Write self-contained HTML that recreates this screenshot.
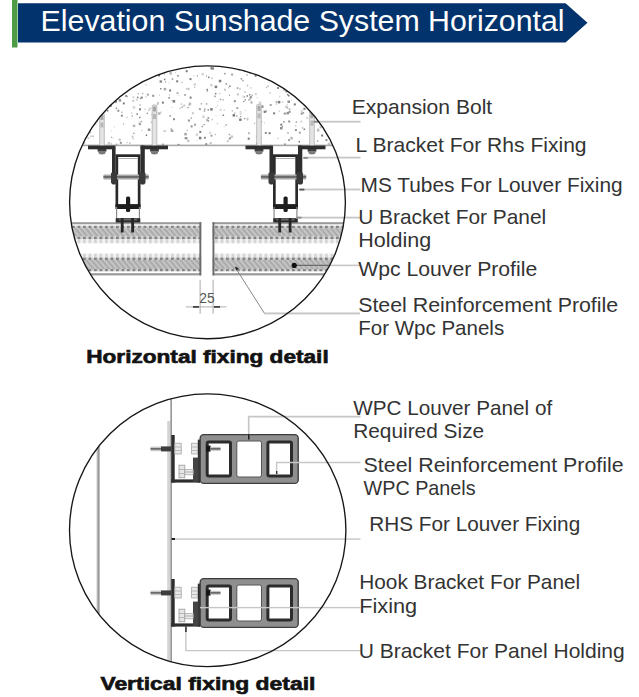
<!DOCTYPE html>
<html><head><meta charset="utf-8"><style>
html,body{margin:0;padding:0;background:#fff;width:639px;height:697px;overflow:hidden}
svg{display:block}
text{font-family:"Liberation Sans",sans-serif;white-space:pre}
</style></head><body>
<svg width="639" height="697" viewBox="0 0 639 697">
<defs>
<clipPath id="c1"><ellipse cx="207.5" cy="202.3" rx="137.9" ry="136.4"/></clipPath>
<clipPath id="c2"><ellipse cx="207.7" cy="530.2" rx="138.2" ry="136.4"/></clipPath>
<pattern id="hatch" patternUnits="userSpaceOnUse" width="4" height="4" patternTransform="rotate(-40)">
<rect width="4" height="4" fill="#acacac"/><rect width="1.6" height="4" fill="#cacaca"/>
</pattern>
<pattern id="dashD" patternUnits="userSpaceOnUse" width="5.5" height="10" x="0.5">
<rect width="3.2" height="10" fill="#858585"/><rect x="3.2" width="2.3" height="10" fill="#d2d2d2"/>
</pattern>
<pattern id="dashL" patternUnits="userSpaceOnUse" width="5.5" height="10" x="0.5">
<rect width="3.2" height="10" fill="#d6d6d6"/><rect x="3.2" width="2.3" height="10" fill="#f4f4f4"/>
</pattern>
</defs>
<rect x="12" y="0" width="5.5" height="47.5" fill="#4f9a47"/>
<polygon points="18,3.2 565.5,3.2 587.5,22.8 565.5,42.5 18,42.5" fill="#03336c"/>
<text x="40.6" y="30.7" font-size="28.8" font-weight="400" fill="#ffffff" textLength="524" lengthAdjust="spacingAndGlyphs">Elevation Sunshade System Horizontal</text>
<g clip-path="url(#c1)">
<rect x="158.0" y="74.4" width="2" height="2" fill="#7c7c7c"/><rect x="86.6" y="105.9" width="1.5" height="1.5" fill="#c8c8c8"/><rect x="82.5" y="103.6" width="1" height="1" fill="#7c7c7c"/><rect x="189.2" y="67.7" width="1" height="1" fill="#c8c8c8"/><rect x="186.6" y="129.8" width="1" height="1" fill="#909090"/><rect x="245.1" y="109.8" width="1" height="1" fill="#c8c8c8"/><rect x="232.3" y="66.1" width="1.2" height="1.2" fill="#7c7c7c"/><rect x="224.1" y="72.9" width="1.5" height="1.5" fill="#909090"/><rect x="219.6" y="108.8" width="2" height="2" fill="#d4d4d4"/><rect x="117.3" y="109.7" width="2" height="2" fill="#909090"/><rect x="171.8" y="106.9" width="1" height="1" fill="#c8c8c8"/><rect x="82.9" y="78.9" width="2" height="2" fill="#c8c8c8"/><rect x="187.4" y="87.8" width="2" height="2" fill="#b8b8b8"/><rect x="168.7" y="82.4" width="1.2" height="1.2" fill="#d4d4d4"/><rect x="287.5" y="68.7" width="1.5" height="1.5" fill="#c8c8c8"/><rect x="206.6" y="90.2" width="1.5" height="1.5" fill="#a4a4a4"/><rect x="238.9" y="68.0" width="2" height="2" fill="#b8b8b8"/><rect x="112.8" y="90.0" width="1.5" height="1.5" fill="#b8b8b8"/><rect x="77.1" y="116.8" width="2.5" height="2.5" fill="#c8c8c8"/><rect x="228.7" y="133.8" width="1.5" height="1.5" fill="#a4a4a4"/><rect x="263.5" y="110.7" width="2" height="2" fill="#b8b8b8"/><rect x="85.5" y="69.7" width="1.5" height="1.5" fill="#b8b8b8"/><rect x="264.0" y="67.3" width="2" height="2" fill="#d4d4d4"/><rect x="153.9" y="109.4" width="2" height="2" fill="#b8b8b8"/><rect x="146.8" y="93.6" width="2" height="2" fill="#a4a4a4"/><rect x="72.4" y="99.9" width="1.2" height="1.2" fill="#c8c8c8"/><rect x="99.3" y="66.8" width="2.5" height="2.5" fill="#a4a4a4"/><rect x="102.7" y="82.3" width="1.5" height="1.5" fill="#b8b8b8"/><rect x="88.9" y="98.8" width="2" height="2" fill="#a4a4a4"/><rect x="316.9" y="129.2" width="2.5" height="2.5" fill="#c8c8c8"/><rect x="145.1" y="96.1" width="1.5" height="1.5" fill="#d4d4d4"/><rect x="317.1" y="140.5" width="1.2" height="1.2" fill="#7c7c7c"/><rect x="116.0" y="81.0" width="1.2" height="1.2" fill="#7c7c7c"/><rect x="203.7" y="110.3" width="1.5" height="1.5" fill="#a4a4a4"/><rect x="67.2" y="96.4" width="1.5" height="1.5" fill="#c8c8c8"/><rect x="226.8" y="140.2" width="2" height="2" fill="#c8c8c8"/><rect x="335.9" y="115.7" width="2" height="2" fill="#7c7c7c"/><rect x="195.7" y="133.4" width="2.5" height="2.5" fill="#d4d4d4"/><rect x="292.6" y="94.2" width="1.5" height="1.5" fill="#b8b8b8"/><rect x="95.4" y="114.0" width="1" height="1" fill="#909090"/><rect x="85.1" y="79.1" width="1.2" height="1.2" fill="#7c7c7c"/><rect x="162.6" y="66.3" width="1" height="1" fill="#c8c8c8"/><rect x="109.0" y="70.3" width="1.5" height="1.5" fill="#c8c8c8"/><rect x="73.2" y="133.7" width="2" height="2" fill="#b8b8b8"/><rect x="108.2" y="82.7" width="1.5" height="1.5" fill="#c8c8c8"/><rect x="169.4" y="72.1" width="2.5" height="2.5" fill="#b8b8b8"/><rect x="348.0" y="100.2" width="1.5" height="1.5" fill="#a4a4a4"/><rect x="90.4" y="70.4" width="1.5" height="1.5" fill="#d4d4d4"/><rect x="141.2" y="130.0" width="1.2" height="1.2" fill="#c8c8c8"/><rect x="72.6" y="140.0" width="2" height="2" fill="#a4a4a4"/><rect x="107.6" y="106.5" width="1" height="1" fill="#c8c8c8"/><rect x="150.7" y="114.7" width="1" height="1" fill="#d4d4d4"/><rect x="306.1" y="104.5" width="1.2" height="1.2" fill="#a4a4a4"/><rect x="285.2" y="105.7" width="2.5" height="2.5" fill="#c8c8c8"/><rect x="159.6" y="80.3" width="2.5" height="2.5" fill="#909090"/><rect x="294.9" y="129.1" width="2" height="2" fill="#909090"/><rect x="122.8" y="102.4" width="2" height="2" fill="#7c7c7c"/><rect x="347.0" y="126.8" width="1.5" height="1.5" fill="#a4a4a4"/><rect x="121.0" y="111.6" width="1.5" height="1.5" fill="#b8b8b8"/><rect x="295.6" y="121.3" width="1.5" height="1.5" fill="#a4a4a4"/><rect x="88.9" y="70.4" width="1.5" height="1.5" fill="#909090"/><rect x="161.9" y="101.6" width="2" height="2" fill="#7c7c7c"/><rect x="202.2" y="115.5" width="2.5" height="2.5" fill="#d4d4d4"/><rect x="90.1" y="116.2" width="1.5" height="1.5" fill="#d4d4d4"/><rect x="279.0" y="101.2" width="1.2" height="1.2" fill="#b8b8b8"/><rect x="290.1" y="89.3" width="2.5" height="2.5" fill="#d4d4d4"/><rect x="178.4" y="94.9" width="1" height="1" fill="#d4d4d4"/><rect x="111.1" y="143.4" width="1" height="1" fill="#909090"/><rect x="233.8" y="100.2" width="2" height="2" fill="#909090"/><rect x="239.7" y="110.9" width="1.5" height="1.5" fill="#d4d4d4"/><rect x="332.2" y="74.8" width="2" height="2" fill="#909090"/><rect x="72.1" y="127.5" width="2" height="2" fill="#d4d4d4"/><rect x="95.2" y="123.5" width="1.2" height="1.2" fill="#b8b8b8"/><rect x="346.2" y="78.0" width="2.5" height="2.5" fill="#909090"/><rect x="74.0" y="79.4" width="2" height="2" fill="#909090"/><rect x="282.9" y="88.7" width="2" height="2" fill="#b8b8b8"/><rect x="302.9" y="67.0" width="2" height="2" fill="#a4a4a4"/><rect x="320.9" y="116.3" width="2.5" height="2.5" fill="#c8c8c8"/><rect x="185.5" y="137.3" width="2" height="2" fill="#909090"/><rect x="217.0" y="104.9" width="1" height="1" fill="#b8b8b8"/><rect x="286.5" y="111.9" width="2.5" height="2.5" fill="#909090"/><rect x="114.9" y="100.8" width="2" height="2" fill="#7c7c7c"/><rect x="224.0" y="88.7" width="2" height="2" fill="#c8c8c8"/><rect x="223.7" y="126.3" width="1" height="1" fill="#c8c8c8"/><rect x="82.1" y="77.7" width="1" height="1" fill="#7c7c7c"/><rect x="210.2" y="108.1" width="2.5" height="2.5" fill="#7c7c7c"/><rect x="191.9" y="112.2" width="2" height="2" fill="#c8c8c8"/><rect x="211.5" y="118.8" width="1.5" height="1.5" fill="#c8c8c8"/><rect x="217.5" y="101.2" width="1.2" height="1.2" fill="#d4d4d4"/><rect x="214.6" y="133.8" width="1.5" height="1.5" fill="#c8c8c8"/><rect x="319.5" y="78.6" width="1.5" height="1.5" fill="#909090"/><rect x="184.3" y="94.2" width="1.5" height="1.5" fill="#7c7c7c"/><rect x="256.6" y="97.1" width="1.2" height="1.2" fill="#d4d4d4"/><rect x="152.0" y="72.0" width="2.5" height="2.5" fill="#909090"/><rect x="332.8" y="114.8" width="1.5" height="1.5" fill="#909090"/><rect x="137.9" y="73.3" width="1.5" height="1.5" fill="#909090"/><rect x="278.1" y="69.7" width="1.5" height="1.5" fill="#909090"/><rect x="347.1" y="130.3" width="1.2" height="1.2" fill="#d4d4d4"/><rect x="188.6" y="104.3" width="1.5" height="1.5" fill="#b8b8b8"/><rect x="121.6" y="88.1" width="2" height="2" fill="#a4a4a4"/><rect x="71.5" y="107.4" width="1.5" height="1.5" fill="#d4d4d4"/><rect x="71.1" y="89.2" width="2" height="2" fill="#a4a4a4"/><rect x="211.5" y="67.3" width="2.5" height="2.5" fill="#909090"/><rect x="342.0" y="70.6" width="1.5" height="1.5" fill="#a4a4a4"/><rect x="77.2" y="125.9" width="1.5" height="1.5" fill="#909090"/><rect x="298.8" y="131.7" width="2" height="2" fill="#a4a4a4"/><rect x="181.3" y="106.0" width="2" height="2" fill="#c8c8c8"/><rect x="206.5" y="88.8" width="1.5" height="1.5" fill="#7c7c7c"/><rect x="293.1" y="77.0" width="1" height="1" fill="#a4a4a4"/><rect x="332.5" y="114.0" width="2.5" height="2.5" fill="#a4a4a4"/><rect x="89.8" y="132.2" width="1" height="1" fill="#a4a4a4"/><rect x="311.0" y="99.2" width="1.5" height="1.5" fill="#c8c8c8"/><rect x="184.6" y="137.1" width="2" height="2" fill="#909090"/><rect x="78.3" y="120.2" width="1" height="1" fill="#909090"/><rect x="140.4" y="76.9" width="1.5" height="1.5" fill="#d4d4d4"/><rect x="152.6" y="124.3" width="1.5" height="1.5" fill="#b8b8b8"/><rect x="208.0" y="76.6" width="1.5" height="1.5" fill="#7c7c7c"/><rect x="348.4" y="65.0" width="1" height="1" fill="#d4d4d4"/><rect x="209.6" y="142.2" width="2" height="2" fill="#b8b8b8"/><rect x="135.8" y="98.7" width="2" height="2" fill="#d4d4d4"/><rect x="188.7" y="102.6" width="2.5" height="2.5" fill="#b8b8b8"/><rect x="341.6" y="87.2" width="1.2" height="1.2" fill="#909090"/><rect x="163.3" y="130.2" width="2" height="2" fill="#d4d4d4"/><rect x="246.6" y="95.2" width="1.5" height="1.5" fill="#7c7c7c"/><rect x="303.7" y="63.2" width="2" height="2" fill="#d4d4d4"/><rect x="315.9" y="97.3" width="1" height="1" fill="#7c7c7c"/><rect x="254.9" y="93.2" width="2" height="2" fill="#d4d4d4"/><rect x="341.7" y="111.1" width="2" height="2" fill="#a4a4a4"/><rect x="78.8" y="77.2" width="1.5" height="1.5" fill="#b8b8b8"/><rect x="67.0" y="91.9" width="1.5" height="1.5" fill="#c8c8c8"/><rect x="157.9" y="64.8" width="1.5" height="1.5" fill="#909090"/><rect x="167.3" y="62.1" width="1.5" height="1.5" fill="#7c7c7c"/><rect x="200.8" y="103.2" width="1.2" height="1.2" fill="#909090"/><rect x="209.3" y="62.4" width="1.5" height="1.5" fill="#7c7c7c"/><rect x="106.9" y="110.1" width="1.5" height="1.5" fill="#7c7c7c"/><rect x="151.1" y="113.6" width="1" height="1" fill="#c8c8c8"/><rect x="338.0" y="132.0" width="1.2" height="1.2" fill="#d4d4d4"/><rect x="319.6" y="126.3" width="2" height="2" fill="#b8b8b8"/><rect x="283.1" y="121.1" width="1.5" height="1.5" fill="#909090"/><rect x="146.7" y="112.7" width="1.2" height="1.2" fill="#7c7c7c"/><rect x="300.3" y="120.6" width="2" height="2" fill="#d4d4d4"/><rect x="187.9" y="119.5" width="2" height="2" fill="#909090"/><rect x="324.4" y="123.7" width="2" height="2" fill="#7c7c7c"/><rect x="300.7" y="109.9" width="2" height="2" fill="#d4d4d4"/><rect x="337.5" y="114.7" width="1" height="1" fill="#7c7c7c"/><rect x="77.9" y="114.2" width="1" height="1" fill="#b8b8b8"/><rect x="303.4" y="107.8" width="2" height="2" fill="#7c7c7c"/><rect x="243.8" y="117.8" width="1.5" height="1.5" fill="#a4a4a4"/><rect x="66.9" y="127.4" width="2" height="2" fill="#c8c8c8"/><rect x="321.0" y="69.5" width="2" height="2" fill="#7c7c7c"/><rect x="277.8" y="100.9" width="2.5" height="2.5" fill="#7c7c7c"/><rect x="306.3" y="81.3" width="2.5" height="2.5" fill="#909090"/><rect x="131.5" y="115.3" width="1.5" height="1.5" fill="#b8b8b8"/><rect x="306.1" y="68.3" width="2" height="2" fill="#a4a4a4"/><rect x="283.8" y="112.6" width="2" height="2" fill="#909090"/><rect x="88.0" y="74.1" width="1.5" height="1.5" fill="#d4d4d4"/><rect x="277.1" y="87.0" width="2" height="2" fill="#909090"/><rect x="69.5" y="67.0" width="1.5" height="1.5" fill="#d4d4d4"/><rect x="94.3" y="79.9" width="1.5" height="1.5" fill="#a4a4a4"/><rect x="267.3" y="85.4" width="1.5" height="1.5" fill="#b8b8b8"/><rect x="283.9" y="143.5" width="2" height="2" fill="#909090"/><rect x="154.5" y="69.0" width="1.5" height="1.5" fill="#7c7c7c"/><rect x="148.2" y="68.3" width="2" height="2" fill="#b8b8b8"/><rect x="348.3" y="93.7" width="1.2" height="1.2" fill="#7c7c7c"/><rect x="231.1" y="73.6" width="2" height="2" fill="#a4a4a4"/><rect x="336.6" y="72.9" width="2.5" height="2.5" fill="#d4d4d4"/><rect x="210.5" y="134.7" width="2" height="2" fill="#a4a4a4"/><rect x="131.7" y="135.6" width="1.5" height="1.5" fill="#b8b8b8"/><rect x="73.1" y="62.3" width="1.5" height="1.5" fill="#d4d4d4"/><rect x="194.0" y="86.8" width="1.2" height="1.2" fill="#b8b8b8"/><rect x="163.7" y="87.9" width="2.5" height="2.5" fill="#a4a4a4"/><rect x="66.5" y="123.6" width="2.5" height="2.5" fill="#b8b8b8"/><rect x="100.1" y="138.0" width="2" height="2" fill="#7c7c7c"/><rect x="322.0" y="85.8" width="1.5" height="1.5" fill="#7c7c7c"/><rect x="177.6" y="143.9" width="2" height="2" fill="#7c7c7c"/><rect x="168.4" y="97.1" width="1.5" height="1.5" fill="#7c7c7c"/><rect x="145.7" y="66.2" width="2" height="2" fill="#a4a4a4"/><rect x="246.3" y="74.2" width="1.5" height="1.5" fill="#b8b8b8"/><rect x="211.1" y="77.6" width="1.5" height="1.5" fill="#b8b8b8"/><rect x="317.1" y="128.6" width="2" height="2" fill="#b8b8b8"/><rect x="325.4" y="139.1" width="2" height="2" fill="#909090"/><rect x="270.4" y="66.1" width="2" height="2" fill="#b8b8b8"/><rect x="194.0" y="123.7" width="2" height="2" fill="#a4a4a4"/><rect x="203.9" y="136.8" width="2" height="2" fill="#909090"/><rect x="114.5" y="96.0" width="1.5" height="1.5" fill="#a4a4a4"/><rect x="138.6" y="122.6" width="2" height="2" fill="#a4a4a4"/><rect x="181.4" y="81.6" width="1.5" height="1.5" fill="#c8c8c8"/><rect x="256.0" y="71.8" width="2" height="2" fill="#909090"/><rect x="87.3" y="103.0" width="2.5" height="2.5" fill="#b8b8b8"/><rect x="222.3" y="99.1" width="1.5" height="1.5" fill="#b8b8b8"/><rect x="187.4" y="106.9" width="1.2" height="1.2" fill="#7c7c7c"/><rect x="115.6" y="107.6" width="1.5" height="1.5" fill="#909090"/><rect x="170.6" y="128.4" width="1.2" height="1.2" fill="#7c7c7c"/><rect x="278.9" y="95.8" width="1.5" height="1.5" fill="#d4d4d4"/><rect x="214.9" y="92.9" width="1.5" height="1.5" fill="#7c7c7c"/><rect x="207.5" y="109.1" width="1.5" height="1.5" fill="#909090"/><rect x="261.0" y="105.4" width="2.5" height="2.5" fill="#909090"/><rect x="92.3" y="135.5" width="1.5" height="1.5" fill="#b8b8b8"/><rect x="249.4" y="97.4" width="1.5" height="1.5" fill="#7c7c7c"/><rect x="102.1" y="96.9" width="2.5" height="2.5" fill="#b8b8b8"/><rect x="341.0" y="102.2" width="1" height="1" fill="#b8b8b8"/><rect x="330.2" y="138.1" width="2" height="2" fill="#b8b8b8"/><rect x="342.1" y="82.4" width="1" height="1" fill="#909090"/><rect x="109.8" y="104.8" width="2" height="2" fill="#7c7c7c"/><rect x="333.4" y="121.2" width="2" height="2" fill="#b8b8b8"/><rect x="90.1" y="125.7" width="1" height="1" fill="#909090"/><rect x="132.1" y="137.4" width="2" height="2" fill="#d4d4d4"/><rect x="152.3" y="72.5" width="1.5" height="1.5" fill="#c8c8c8"/><rect x="246.7" y="119.3" width="1" height="1" fill="#7c7c7c"/><rect x="86.0" y="105.0" width="2" height="2" fill="#909090"/><rect x="176.2" y="80.3" width="2" height="2" fill="#7c7c7c"/><rect x="69.0" y="86.7" width="1.5" height="1.5" fill="#a4a4a4"/><rect x="338.3" y="114.9" width="1.2" height="1.2" fill="#b8b8b8"/><rect x="215.5" y="106.9" width="1" height="1" fill="#b8b8b8"/><rect x="266.1" y="87.2" width="1" height="1" fill="#909090"/><rect x="207.5" y="117.3" width="1.5" height="1.5" fill="#7c7c7c"/><rect x="139.1" y="116.7" width="1.5" height="1.5" fill="#909090"/><rect x="206.0" y="119.1" width="2" height="2" fill="#b8b8b8"/><rect x="168.9" y="94.5" width="1" height="1" fill="#a4a4a4"/><rect x="275.9" y="103.4" width="1.2" height="1.2" fill="#b8b8b8"/><rect x="341.4" y="87.6" width="2.5" height="2.5" fill="#909090"/><rect x="131.5" y="80.2" width="2.5" height="2.5" fill="#a4a4a4"/><rect x="97.0" y="113.1" width="2" height="2" fill="#909090"/><rect x="320.6" y="101.8" width="2" height="2" fill="#7c7c7c"/><rect x="335.4" y="74.0" width="1.5" height="1.5" fill="#7c7c7c"/><rect x="126.5" y="141.9" width="1.2" height="1.2" fill="#b8b8b8"/><rect x="80.7" y="66.9" width="1.5" height="1.5" fill="#b8b8b8"/><rect x="321.1" y="134.5" width="2" height="2" fill="#7c7c7c"/><rect x="349.3" y="138.4" width="1.5" height="1.5" fill="#909090"/><rect x="118.7" y="138.7" width="2" height="2" fill="#b8b8b8"/><rect x="75.1" y="116.5" width="1.5" height="1.5" fill="#a4a4a4"/><rect x="345.7" y="98.3" width="1" height="1" fill="#7c7c7c"/><rect x="88.2" y="68.6" width="1.5" height="1.5" fill="#7c7c7c"/><rect x="225.4" y="124.2" width="1.5" height="1.5" fill="#a4a4a4"/><rect x="284.3" y="87.3" width="2.5" height="2.5" fill="#b8b8b8"/><rect x="90.9" y="119.8" width="1.2" height="1.2" fill="#a4a4a4"/><rect x="219.8" y="98.6" width="1.5" height="1.5" fill="#a4a4a4"/><rect x="275.4" y="100.9" width="2" height="2" fill="#b8b8b8"/><rect x="136.4" y="113.3" width="1.5" height="1.5" fill="#7c7c7c"/><rect x="172.7" y="100.1" width="2.5" height="2.5" fill="#7c7c7c"/><rect x="139.0" y="123.3" width="2" height="2" fill="#a4a4a4"/><rect x="169.1" y="89.5" width="2" height="2" fill="#7c7c7c"/><rect x="140.5" y="120.8" width="1.5" height="1.5" fill="#a4a4a4"/><rect x="150.5" y="121.2" width="2" height="2" fill="#d4d4d4"/><rect x="334.8" y="67.4" width="2.5" height="2.5" fill="#909090"/><rect x="96.5" y="120.7" width="1.5" height="1.5" fill="#b8b8b8"/><rect x="290.3" y="136.9" width="2.5" height="2.5" fill="#b8b8b8"/><rect x="103.7" y="102.7" width="1" height="1" fill="#d4d4d4"/><rect x="152.1" y="118.8" width="1.2" height="1.2" fill="#c8c8c8"/><rect x="133.1" y="132.6" width="1.5" height="1.5" fill="#a4a4a4"/><rect x="288.6" y="110.8" width="2" height="2" fill="#909090"/><rect x="177.2" y="75.1" width="1.5" height="1.5" fill="#7c7c7c"/><rect x="250.5" y="101.5" width="2" height="2" fill="#a4a4a4"/><rect x="111.6" y="97.0" width="1" height="1" fill="#7c7c7c"/><rect x="141.2" y="68.9" width="1" height="1" fill="#b8b8b8"/><rect x="207.6" y="120.2" width="1.5" height="1.5" fill="#909090"/><rect x="132.5" y="96.2" width="2" height="2" fill="#d4d4d4"/><rect x="132.7" y="106.2" width="2.5" height="2.5" fill="#d4d4d4"/><rect x="281.7" y="125.9" width="1.5" height="1.5" fill="#a4a4a4"/><rect x="145.3" y="83.9" width="1.5" height="1.5" fill="#d4d4d4"/><rect x="139.9" y="98.0" width="1.2" height="1.2" fill="#909090"/><rect x="132.9" y="85.1" width="2" height="2" fill="#909090"/><rect x="158.7" y="94.5" width="1.2" height="1.2" fill="#c8c8c8"/><rect x="215.5" y="115.3" width="1" height="1" fill="#d4d4d4"/><rect x="197.8" y="65.0" width="1" height="1" fill="#b8b8b8"/><rect x="316.7" y="81.0" width="1.5" height="1.5" fill="#a4a4a4"/><rect x="77.5" y="86.1" width="1" height="1" fill="#7c7c7c"/><rect x="119.8" y="141.8" width="2" height="2" fill="#909090"/><rect x="330.2" y="92.5" width="2.5" height="2.5" fill="#909090"/><rect x="193.5" y="83.3" width="2.5" height="2.5" fill="#d4d4d4"/><rect x="334.6" y="70.7" width="2" height="2" fill="#d4d4d4"/><rect x="242.1" y="79.8" width="1.5" height="1.5" fill="#a4a4a4"/><rect x="106.1" y="78.7" width="1.5" height="1.5" fill="#7c7c7c"/><rect x="236.2" y="115.4" width="1.2" height="1.2" fill="#7c7c7c"/><rect x="298.5" y="95.5" width="1.5" height="1.5" fill="#909090"/><rect x="242.4" y="68.4" width="1" height="1" fill="#b8b8b8"/><rect x="221.6" y="67.2" width="1" height="1" fill="#b8b8b8"/><rect x="254.6" y="74.7" width="2" height="2" fill="#7c7c7c"/><rect x="251.5" y="94.6" width="1.5" height="1.5" fill="#b8b8b8"/><rect x="346.7" y="116.8" width="1.5" height="1.5" fill="#7c7c7c"/><rect x="154.7" y="108.5" width="1.5" height="1.5" fill="#b8b8b8"/><rect x="184.3" y="132.9" width="2.5" height="2.5" fill="#a4a4a4"/><rect x="249.0" y="94.0" width="1.5" height="1.5" fill="#909090"/><rect x="333.5" y="97.6" width="1.2" height="1.2" fill="#b8b8b8"/><rect x="98.2" y="69.4" width="2" height="2" fill="#a4a4a4"/><rect x="196.9" y="75.3" width="1" height="1" fill="#7c7c7c"/><rect x="222.6" y="114.5" width="1.5" height="1.5" fill="#7c7c7c"/><rect x="228.7" y="138.0" width="2" height="2" fill="#c8c8c8"/><rect x="114.8" y="90.5" width="1.2" height="1.2" fill="#c8c8c8"/><rect x="114.8" y="67.5" width="1.5" height="1.5" fill="#b8b8b8"/><rect x="280.0" y="127.0" width="2.5" height="2.5" fill="#909090"/><rect x="151.7" y="130.7" width="1" height="1" fill="#b8b8b8"/><rect x="155.3" y="111.8" width="2" height="2" fill="#b8b8b8"/><rect x="90.5" y="120.4" width="2" height="2" fill="#909090"/><rect x="247.9" y="132.2" width="2" height="2" fill="#b8b8b8"/><rect x="240.6" y="78.1" width="1.5" height="1.5" fill="#909090"/><rect x="226.6" y="65.4" width="2" height="2" fill="#909090"/><rect x="174.9" y="72.1" width="1.2" height="1.2" fill="#d4d4d4"/><rect x="297.6" y="77.8" width="2" height="2" fill="#d4d4d4"/><rect x="76.8" y="130.7" width="1" height="1" fill="#b8b8b8"/><rect x="236.3" y="107.1" width="2" height="2" fill="#a4a4a4"/><rect x="250.3" y="87.3" width="1.2" height="1.2" fill="#b8b8b8"/><rect x="176.5" y="92.1" width="2" height="2" fill="#b8b8b8"/><rect x="116.8" y="62.3" width="1.5" height="1.5" fill="#b8b8b8"/><rect x="132.8" y="124.6" width="2.5" height="2.5" fill="#b8b8b8"/><rect x="303.6" y="128.5" width="1.5" height="1.5" fill="#7c7c7c"/><rect x="85.1" y="91.4" width="1.5" height="1.5" fill="#7c7c7c"/><rect x="293.8" y="103.4" width="2" height="2" fill="#7c7c7c"/><rect x="77.5" y="72.7" width="2" height="2" fill="#a4a4a4"/><rect x="286.8" y="103.9" width="1" height="1" fill="#c8c8c8"/><rect x="320.1" y="115.5" width="2.5" height="2.5" fill="#909090"/><rect x="73.3" y="67.4" width="2" height="2" fill="#d4d4d4"/><rect x="262.7" y="71.0" width="1.2" height="1.2" fill="#b8b8b8"/><rect x="147.8" y="128.5" width="2.5" height="2.5" fill="#909090"/><rect x="260.9" y="121.1" width="1.2" height="1.2" fill="#7c7c7c"/><rect x="302.6" y="112.1" width="1.5" height="1.5" fill="#909090"/><rect x="158.0" y="112.3" width="2.5" height="2.5" fill="#b8b8b8"/><rect x="106.8" y="103.2" width="1.5" height="1.5" fill="#909090"/><rect x="234.1" y="112.5" width="1.2" height="1.2" fill="#a4a4a4"/><rect x="171.7" y="78.3" width="1.5" height="1.5" fill="#909090"/><rect x="246.8" y="84.8" width="1.5" height="1.5" fill="#b8b8b8"/><rect x="113.9" y="126.4" width="1" height="1" fill="#c8c8c8"/><rect x="79.8" y="132.4" width="2.5" height="2.5" fill="#b8b8b8"/><rect x="223.7" y="109.6" width="1" height="1" fill="#a4a4a4"/><rect x="348.0" y="113.6" width="1.5" height="1.5" fill="#d4d4d4"/><rect x="292.5" y="83.7" width="1.5" height="1.5" fill="#c8c8c8"/><rect x="107.5" y="89.1" width="1" height="1" fill="#b8b8b8"/><rect x="131.3" y="112.5" width="1" height="1" fill="#a4a4a4"/><rect x="298.8" y="82.8" width="2" height="2" fill="#c8c8c8"/><rect x="329.7" y="135.4" width="2" height="2" fill="#7c7c7c"/><rect x="278.2" y="80.2" width="1.5" height="1.5" fill="#c8c8c8"/><rect x="243.7" y="96.3" width="1.5" height="1.5" fill="#7c7c7c"/><rect x="103.5" y="80.6" width="2" height="2" fill="#7c7c7c"/><rect x="72.3" y="62.2" width="1.5" height="1.5" fill="#a4a4a4"/><rect x="96.2" y="91.3" width="1.2" height="1.2" fill="#b8b8b8"/><rect x="231.7" y="110.3" width="1.2" height="1.2" fill="#a4a4a4"/><rect x="243.2" y="100.9" width="1.2" height="1.2" fill="#7c7c7c"/><rect x="332.0" y="82.0" width="1.2" height="1.2" fill="#b8b8b8"/><rect x="93.2" y="114.3" width="2.5" height="2.5" fill="#d4d4d4"/><rect x="288.1" y="95.0" width="1.5" height="1.5" fill="#7c7c7c"/><rect x="81.9" y="129.3" width="1.5" height="1.5" fill="#c8c8c8"/><rect x="249.4" y="98.4" width="2" height="2" fill="#d4d4d4"/><rect x="206.0" y="75.5" width="1" height="1" fill="#7c7c7c"/><rect x="83.5" y="64.1" width="1.2" height="1.2" fill="#909090"/><rect x="111.2" y="136.8" width="1" height="1" fill="#7c7c7c"/><rect x="240.0" y="115.9" width="1.2" height="1.2" fill="#909090"/><rect x="183.3" y="104.5" width="2" height="2" fill="#c8c8c8"/><rect x="249.9" y="96.1" width="2" height="2" fill="#909090"/><rect x="210.4" y="67.2" width="2" height="2" fill="#7c7c7c"/><rect x="348.3" y="121.4" width="1.5" height="1.5" fill="#d4d4d4"/><rect x="218.9" y="92.8" width="1.5" height="1.5" fill="#d4d4d4"/><rect x="325.1" y="68.6" width="2" height="2" fill="#b8b8b8"/><rect x="115.8" y="143.7" width="1.5" height="1.5" fill="#909090"/><rect x="248.9" y="72.1" width="2" height="2" fill="#d4d4d4"/><rect x="333.8" y="83.6" width="1" height="1" fill="#a4a4a4"/><rect x="246.6" y="117.7" width="2" height="2" fill="#c8c8c8"/><rect x="342.0" y="86.2" width="1.2" height="1.2" fill="#7c7c7c"/><rect x="315.9" y="63.2" width="1.5" height="1.5" fill="#909090"/><rect x="305.0" y="78.6" width="1.2" height="1.2" fill="#d4d4d4"/><rect x="325.8" y="77.7" width="1.5" height="1.5" fill="#a4a4a4"/><rect x="236.7" y="93.1" width="2.5" height="2.5" fill="#d4d4d4"/><rect x="327.8" y="142.5" width="2.5" height="2.5" fill="#c8c8c8"/><rect x="199.3" y="130.9" width="2" height="2" fill="#7c7c7c"/><rect x="309.5" y="97.9" width="2" height="2" fill="#909090"/><rect x="228.0" y="87.2" width="1.2" height="1.2" fill="#b8b8b8"/><rect x="242.8" y="68.4" width="1.2" height="1.2" fill="#909090"/><rect x="75.3" y="71.2" width="2" height="2" fill="#909090"/><rect x="163.9" y="73.6" width="1" height="1" fill="#7c7c7c"/><rect x="77.8" y="118.8" width="2" height="2" fill="#7c7c7c"/><rect x="264.0" y="122.4" width="1" height="1" fill="#c8c8c8"/><rect x="282.3" y="78.3" width="2.5" height="2.5" fill="#c8c8c8"/><rect x="319.1" y="67.4" width="2.5" height="2.5" fill="#d4d4d4"/><rect x="334.2" y="70.8" width="1.2" height="1.2" fill="#909090"/><rect x="97.8" y="64.8" width="2.5" height="2.5" fill="#d4d4d4"/><rect x="90.8" y="123.6" width="2" height="2" fill="#a4a4a4"/><rect x="201.5" y="72.9" width="2.5" height="2.5" fill="#d4d4d4"/><rect x="124.2" y="88.2" width="1.5" height="1.5" fill="#a4a4a4"/><rect x="71.9" y="83.0" width="1.5" height="1.5" fill="#7c7c7c"/><rect x="269.3" y="92.2" width="1.5" height="1.5" fill="#c8c8c8"/><rect x="209.1" y="131.8" width="2" height="2" fill="#d4d4d4"/><rect x="74.8" y="95.9" width="1.5" height="1.5" fill="#c8c8c8"/><rect x="285.5" y="90.4" width="2" height="2" fill="#7c7c7c"/><rect x="218.8" y="79.8" width="2.5" height="2.5" fill="#7c7c7c"/><rect x="229.2" y="85.5" width="1.5" height="1.5" fill="#7c7c7c"/><rect x="214.7" y="85.6" width="2.5" height="2.5" fill="#7c7c7c"/><rect x="67.2" y="102.2" width="1.5" height="1.5" fill="#d4d4d4"/><rect x="292.3" y="77.1" width="1.5" height="1.5" fill="#c8c8c8"/><rect x="164.6" y="130.2" width="1.5" height="1.5" fill="#c8c8c8"/><rect x="334.1" y="85.3" width="1.2" height="1.2" fill="#d4d4d4"/><rect x="131.8" y="75.6" width="2" height="2" fill="#7c7c7c"/><rect x="205.2" y="143.3" width="2" height="2" fill="#7c7c7c"/><rect x="244.3" y="91.2" width="1.5" height="1.5" fill="#b8b8b8"/><rect x="319.3" y="123.1" width="1.5" height="1.5" fill="#d4d4d4"/><rect x="73.1" y="78.9" width="1.5" height="1.5" fill="#b8b8b8"/><rect x="321.9" y="103.1" width="1.5" height="1.5" fill="#d4d4d4"/><rect x="132.3" y="99.8" width="2" height="2" fill="#c8c8c8"/><rect x="280.3" y="123.7" width="2" height="2" fill="#7c7c7c"/><rect x="165.0" y="88.8" width="1.2" height="1.2" fill="#b8b8b8"/><rect x="254.0" y="122.8" width="1.2" height="1.2" fill="#b8b8b8"/><rect x="190.6" y="125.4" width="2" height="2" fill="#909090"/><rect x="101.8" y="99.9" width="2" height="2" fill="#909090"/><rect x="210.2" y="83.9" width="2.5" height="2.5" fill="#d4d4d4"/><rect x="300.7" y="112.6" width="2" height="2" fill="#909090"/><rect x="342.8" y="121.3" width="2" height="2" fill="#c8c8c8"/><rect x="165.0" y="81.4" width="1.2" height="1.2" fill="#a4a4a4"/><rect x="342.9" y="121.8" width="1" height="1" fill="#909090"/><rect x="339.3" y="70.3" width="1.5" height="1.5" fill="#909090"/><rect x="345.4" y="127.2" width="2" height="2" fill="#a4a4a4"/><rect x="189.5" y="78.1" width="2" height="2" fill="#7c7c7c"/><rect x="145.7" y="134.6" width="1.5" height="1.5" fill="#7c7c7c"/><rect x="69.6" y="132.1" width="1.5" height="1.5" fill="#d4d4d4"/><rect x="129.2" y="142.4" width="1.5" height="1.5" fill="#b8b8b8"/><rect x="72.3" y="83.1" width="2" height="2" fill="#b8b8b8"/><rect x="67.6" y="81.9" width="2.5" height="2.5" fill="#b8b8b8"/><rect x="265.1" y="110.2" width="2" height="2" fill="#b8b8b8"/><rect x="306.3" y="116.8" width="2" height="2" fill="#d4d4d4"/><rect x="264.8" y="131.9" width="2" height="2" fill="#909090"/><rect x="248.2" y="99.2" width="1.5" height="1.5" fill="#a4a4a4"/><rect x="244.4" y="70.0" width="1.5" height="1.5" fill="#909090"/><rect x="288.2" y="120.5" width="2" height="2" fill="#909090"/><rect x="137.0" y="96.7" width="1.5" height="1.5" fill="#7c7c7c"/><rect x="242.5" y="95.6" width="2" height="2" fill="#d4d4d4"/><rect x="330.2" y="77.0" width="2" height="2" fill="#a4a4a4"/><rect x="287.0" y="93.9" width="1.5" height="1.5" fill="#7c7c7c"/><rect x="76.8" y="106.6" width="1.2" height="1.2" fill="#d4d4d4"/><rect x="288.0" y="139.1" width="2" height="2" fill="#a4a4a4"/><rect x="94.7" y="109.1" width="2" height="2" fill="#909090"/><rect x="269.7" y="104.0" width="2" height="2" fill="#a4a4a4"/><rect x="214.2" y="95.6" width="1.5" height="1.5" fill="#909090"/><rect x="347.2" y="77.1" width="2" height="2" fill="#7c7c7c"/><rect x="273.1" y="112.3" width="2" height="2" fill="#7c7c7c"/><rect x="137.7" y="93.3" width="1" height="1" fill="#7c7c7c"/><rect x="87.4" y="137.1" width="2" height="2" fill="#d4d4d4"/><rect x="257.7" y="109.6" width="1" height="1" fill="#909090"/><rect x="152.2" y="94.8" width="2" height="2" fill="#909090"/><rect x="348.4" y="140.8" width="1.5" height="1.5" fill="#909090"/><rect x="112.7" y="138.2" width="1" height="1" fill="#d4d4d4"/><rect x="120.9" y="114.7" width="2" height="2" fill="#909090"/><rect x="297.4" y="74.0" width="2" height="2" fill="#d4d4d4"/><rect x="301.9" y="127.2" width="1.5" height="1.5" fill="#b8b8b8"/><rect x="348.9" y="124.3" width="2" height="2" fill="#909090"/><rect x="287.5" y="100.5" width="2.5" height="2.5" fill="#909090"/><rect x="141.9" y="92.8" width="1.5" height="1.5" fill="#b8b8b8"/><rect x="258.8" y="101.5" width="2.5" height="2.5" fill="#d4d4d4"/><rect x="292.9" y="91.4" width="2" height="2" fill="#a4a4a4"/><rect x="157.0" y="101.8" width="2" height="2" fill="#d4d4d4"/><rect x="90.3" y="135.6" width="1.2" height="1.2" fill="#a4a4a4"/><rect x="308.7" y="66.7" width="2.5" height="2.5" fill="#c8c8c8"/><rect x="323.2" y="126.3" width="1.2" height="1.2" fill="#c8c8c8"/><rect x="302.1" y="113.9" width="1" height="1" fill="#d4d4d4"/><rect x="69.3" y="140.0" width="2" height="2" fill="#a4a4a4"/><rect x="137.0" y="70.3" width="1.2" height="1.2" fill="#909090"/><rect x="118.7" y="99.1" width="2.5" height="2.5" fill="#909090"/><rect x="125.2" y="95.0" width="2" height="2" fill="#909090"/><rect x="239.1" y="118.4" width="2.5" height="2.5" fill="#7c7c7c"/><rect x="255.8" y="135.3" width="2.5" height="2.5" fill="#d4d4d4"/><rect x="304.2" y="78.2" width="2" height="2" fill="#909090"/><rect x="216.7" y="122.8" width="1.5" height="1.5" fill="#d4d4d4"/><rect x="316.7" y="107.5" width="1.5" height="1.5" fill="#b8b8b8"/><rect x="132.5" y="73.4" width="1.5" height="1.5" fill="#c8c8c8"/><rect x="82.6" y="100.3" width="1.2" height="1.2" fill="#d4d4d4"/><rect x="205.5" y="102.9" width="2" height="2" fill="#c8c8c8"/><rect x="311.1" y="62.5" width="2.5" height="2.5" fill="#a4a4a4"/><rect x="198.9" y="108.1" width="2" height="2" fill="#a4a4a4"/><rect x="304.7" y="92.7" width="1.5" height="1.5" fill="#d4d4d4"/><rect x="87.4" y="114.2" width="2" height="2" fill="#d4d4d4"/><rect x="74.1" y="112.0" width="2" height="2" fill="#d4d4d4"/><rect x="330.5" y="89.1" width="1" height="1" fill="#c8c8c8"/><rect x="203.5" y="124.1" width="1.2" height="1.2" fill="#7c7c7c"/><rect x="126.6" y="96.1" width="1.2" height="1.2" fill="#a4a4a4"/><rect x="92.8" y="116.0" width="1.5" height="1.5" fill="#b8b8b8"/><rect x="287.1" y="107.4" width="1.2" height="1.2" fill="#a4a4a4"/><rect x="189.6" y="96.6" width="2" height="2" fill="#7c7c7c"/><rect x="300.8" y="86.0" width="2.5" height="2.5" fill="#b8b8b8"/><rect x="180.7" y="103.3" width="1.5" height="1.5" fill="#c8c8c8"/><rect x="163.9" y="78.7" width="1.5" height="1.5" fill="#7c7c7c"/><rect x="160.0" y="88.0" width="1.5" height="1.5" fill="#909090"/><rect x="232.6" y="114.1" width="2.5" height="2.5" fill="#7c7c7c"/><rect x="179.3" y="107.5" width="1.5" height="1.5" fill="#c8c8c8"/><rect x="229.0" y="94.7" width="1" height="1" fill="#7c7c7c"/><rect x="79.2" y="129.4" width="1.5" height="1.5" fill="#c8c8c8"/><rect x="283.5" y="66.9" width="2" height="2" fill="#c8c8c8"/><rect x="239.7" y="112.6" width="2" height="2" fill="#d4d4d4"/><rect x="263.8" y="110.9" width="2" height="2" fill="#7c7c7c"/><rect x="126.4" y="116.7" width="1.5" height="1.5" fill="#d4d4d4"/><rect x="282.6" y="70.3" width="1.2" height="1.2" fill="#7c7c7c"/><rect x="185.7" y="70.2" width="2" height="2" fill="#7c7c7c"/><rect x="170.8" y="129.5" width="2.5" height="2.5" fill="#a4a4a4"/><rect x="225.6" y="83.2" width="1.5" height="1.5" fill="#909090"/><rect x="185.8" y="88.1" width="1.5" height="1.5" fill="#c8c8c8"/><rect x="248.3" y="138.6" width="1" height="1" fill="#b8b8b8"/><rect x="227.2" y="65.2" width="1" height="1" fill="#b8b8b8"/><rect x="229.4" y="137.3" width="1.5" height="1.5" fill="#7c7c7c"/><rect x="70.0" y="93.7" width="2" height="2" fill="#d4d4d4"/><rect x="344.5" y="101.0" width="1.5" height="1.5" fill="#c8c8c8"/><rect x="95.0" y="114.8" width="1.2" height="1.2" fill="#909090"/><rect x="244.0" y="97.0" width="1" height="1" fill="#d4d4d4"/><rect x="256.1" y="142.9" width="2.5" height="2.5" fill="#7c7c7c"/><rect x="128.0" y="72.0" width="1.5" height="1.5" fill="#7c7c7c"/><rect x="144.2" y="108.7" width="1.5" height="1.5" fill="#d4d4d4"/><rect x="277.4" y="137.7" width="1.5" height="1.5" fill="#d4d4d4"/><rect x="268.6" y="132.2" width="2" height="2" fill="#7c7c7c"/><rect x="149.3" y="107.7" width="1.5" height="1.5" fill="#b8b8b8"/><rect x="256.1" y="135.0" width="1" height="1" fill="#d4d4d4"/><rect x="75.1" y="67.0" width="2" height="2" fill="#d4d4d4"/><rect x="298.1" y="68.5" width="1.5" height="1.5" fill="#a4a4a4"/><rect x="273.2" y="75.6" width="2.5" height="2.5" fill="#b8b8b8"/><rect x="238.9" y="87.9" width="2" height="2" fill="#d4d4d4"/><rect x="190.6" y="117.5" width="1.2" height="1.2" fill="#7c7c7c"/><rect x="169.2" y="114.9" width="2" height="2" fill="#b8b8b8"/><rect x="201.5" y="125.8" width="1.5" height="1.5" fill="#a4a4a4"/><rect x="288.8" y="108.5" width="1.5" height="1.5" fill="#a4a4a4"/><rect x="83.2" y="141.9" width="2" height="2" fill="#c8c8c8"/><rect x="160.3" y="111.7" width="1" height="1" fill="#909090"/><rect x="236.7" y="87.3" width="1.5" height="1.5" fill="#909090"/><rect x="173.0" y="118.2" width="2" height="2" fill="#909090"/><rect x="295.3" y="85.2" width="1" height="1" fill="#a4a4a4"/><rect x="140.7" y="96.6" width="2" height="2" fill="#7c7c7c"/><rect x="147.9" y="73.5" width="2.5" height="2.5" fill="#c8c8c8"/><rect x="107.7" y="142.0" width="2.5" height="2.5" fill="#c8c8c8"/><rect x="260.4" y="136.9" width="1.5" height="1.5" fill="#c8c8c8"/><rect x="90.2" y="107.4" width="2.5" height="2.5" fill="#b8b8b8"/><rect x="122.9" y="123.5" width="1.2" height="1.2" fill="#a4a4a4"/><rect x="238.4" y="117.6" width="1.5" height="1.5" fill="#d4d4d4"/><rect x="124.7" y="82.9" width="2.5" height="2.5" fill="#7c7c7c"/><rect x="290.8" y="99.7" width="1" height="1" fill="#c8c8c8"/><rect x="295.1" y="125.3" width="1.2" height="1.2" fill="#b8b8b8"/><rect x="230.6" y="135.5" width="2.5" height="2.5" fill="#c8c8c8"/><rect x="157.2" y="103.5" width="1.2" height="1.2" fill="#909090"/><rect x="126.4" y="69.6" width="2.5" height="2.5" fill="#d4d4d4"/><rect x="148.3" y="109.4" width="1.5" height="1.5" fill="#b8b8b8"/><rect x="287.4" y="132.3" width="1.2" height="1.2" fill="#7c7c7c"/><rect x="328.0" y="102.4" width="2.5" height="2.5" fill="#7c7c7c"/><rect x="171.6" y="100.0" width="1" height="1" fill="#909090"/><rect x="155.7" y="64.5" width="1.5" height="1.5" fill="#c8c8c8"/><rect x="238.4" y="69.7" width="1.2" height="1.2" fill="#c8c8c8"/><rect x="204.1" y="108.5" width="1.5" height="1.5" fill="#a4a4a4"/><rect x="187.0" y="139.6" width="2.5" height="2.5" fill="#c8c8c8"/><rect x="298.5" y="141.0" width="1.5" height="1.5" fill="#7c7c7c"/><rect x="162.2" y="143.6" width="1.5" height="1.5" fill="#7c7c7c"/><rect x="73.8" y="64.9" width="1.5" height="1.5" fill="#d4d4d4"/><rect x="196.2" y="139.7" width="1" height="1" fill="#c8c8c8"/><rect x="247.7" y="137.6" width="2" height="2" fill="#7c7c7c"/><rect x="139.0" y="108.3" width="2" height="2" fill="#7c7c7c"/><rect x="337.6" y="116.9" width="1.5" height="1.5" fill="#909090"/><rect x="193.3" y="75.1" width="1.2" height="1.2" fill="#d4d4d4"/><rect x="129.0" y="65.2" width="1.5" height="1.5" fill="#a4a4a4"/><rect x="82.8" y="107.3" width="1" height="1" fill="#7c7c7c"/><rect x="139.2" y="104.1" width="2" height="2" fill="#d4d4d4"/><rect x="282.3" y="101.6" width="1" height="1" fill="#909090"/><rect x="156.2" y="62.5" width="1.2" height="1.2" fill="#d4d4d4"/><rect x="278.5" y="110.4" width="1.5" height="1.5" fill="#d4d4d4"/><rect x="95.9" y="88.6" width="1.5" height="1.5" fill="#b8b8b8"/><rect x="101.3" y="101.5" width="1.2" height="1.2" fill="#b8b8b8"/><rect x="133.7" y="73.7" width="2" height="2" fill="#7c7c7c"/><rect x="198.9" y="136.8" width="2.5" height="2.5" fill="#7c7c7c"/><rect x="110.6" y="130.3" width="1" height="1" fill="#c8c8c8"/><rect x="312.2" y="134.9" width="1.2" height="1.2" fill="#b8b8b8"/><rect x="338.1" y="137.9" width="1.5" height="1.5" fill="#7c7c7c"/><rect x="244.5" y="99.1" width="1.5" height="1.5" fill="#a4a4a4"/>
<rect x="60" y="144.6" width="300" height="1.6" fill="#a8a8a8"/>
<rect x="60" y="222.2" width="141.2" height="2.1" fill="#9a9a9a"/>
<rect x="60" y="225.7" width="141.2" height="2.4" fill="url(#dashD)"/>
<rect x="60" y="228.1" width="141.2" height="8.4" fill="url(#hatch)"/>
<rect x="60" y="236.5" width="141.2" height="2.8" fill="url(#dashD)"/>
<rect x="60" y="239.3" width="141.2" height="4" fill="url(#dashL)"/>
<rect x="60" y="253.6" width="141.2" height="3.9" fill="url(#dashL)"/>
<rect x="60" y="257.5" width="141.2" height="2.5" fill="url(#dashD)"/>
<rect x="60" y="260" width="141.2" height="9" fill="url(#hatch)"/>
<rect x="60" y="269" width="141.2" height="2.3" fill="url(#dashD)"/>
<rect x="60" y="273.2" width="141.2" height="2.2" fill="#9a9a9a"/>
<rect x="199.4" y="222.2" width="1.9" height="53.2" fill="#6a6a6a"/>
<rect x="212.5" y="222.2" width="147.5" height="2.1" fill="#9a9a9a"/>
<rect x="212.5" y="225.7" width="147.5" height="2.4" fill="url(#dashD)"/>
<rect x="212.5" y="228.1" width="147.5" height="8.4" fill="url(#hatch)"/>
<rect x="212.5" y="236.5" width="147.5" height="2.8" fill="url(#dashD)"/>
<rect x="212.5" y="239.3" width="147.5" height="4" fill="url(#dashL)"/>
<rect x="212.5" y="253.6" width="147.5" height="3.9" fill="url(#dashL)"/>
<rect x="212.5" y="257.5" width="147.5" height="2.5" fill="url(#dashD)"/>
<rect x="212.5" y="260" width="147.5" height="9" fill="url(#hatch)"/>
<rect x="212.5" y="269" width="147.5" height="2.3" fill="url(#dashD)"/>
<rect x="212.5" y="273.2" width="147.5" height="2.2" fill="#9a9a9a"/>
<rect x="212.5" y="222.2" width="1.9" height="53.2" fill="#6a6a6a"/>
<rect x="99.7" y="113.5" width="4.6" height="32.5" rx="1" fill="#e4e4e4" stroke="#b0b0b0" stroke-width="0.8"/>
<rect x="100.5" y="115.0" width="3" height="5" fill="#a8a8a8"/>
<rect x="100.5" y="122.5" width="3" height="5" fill="#b8b8b8"/>
<rect x="97.6" y="149" width="8.8" height="2.6" fill="#404040"/>
<ellipse cx="102" cy="152.6" rx="3.6" ry="1.9" fill="#7a7a7a"/>
<rect x="152.2" y="105" width="4.6" height="41" rx="1" fill="#e4e4e4" stroke="#b0b0b0" stroke-width="0.8"/>
<rect x="153.0" y="106.5" width="3" height="5" fill="#a8a8a8"/>
<rect x="153.0" y="114" width="3" height="5" fill="#b8b8b8"/>
<rect x="150.1" y="149" width="8.8" height="2.6" fill="#404040"/>
<ellipse cx="154.5" cy="152.6" rx="3.6" ry="1.9" fill="#7a7a7a"/>
<rect x="88.0" y="145.6" width="24.5" height="3.7" fill="#2e2e2e"/>
<rect x="140.5" y="145.6" width="27.5" height="3.7" fill="#2e2e2e"/>
<rect x="112.0" y="145.6" width="3.6" height="38.8" rx="1.2" fill="#2e2e2e"/>
<rect x="140.5" y="145.6" width="4.3" height="38.8" rx="1.2" fill="#2e2e2e"/>
<rect x="116.85" y="155.65" width="22.3" height="50.2" fill="#ffffff" stroke="#2a2a2a" stroke-width="2.7"/>
<rect x="118.5" y="158" width="19" height="1" fill="#b0b0b0"/>
<rect x="103.4" y="174.4" width="45.3" height="5" rx="1" fill="#a8a8a8"/>
<rect x="103.4" y="176.2" width="45.3" height="1.5" fill="#5a5a5a"/>
<rect x="111.0" y="172.5" width="6" height="11" rx="1" fill="#3a3a3a"/>
<rect x="139.0" y="172.5" width="6.5" height="11" rx="1" fill="#3a3a3a"/>
<rect x="115.5" y="204.2" width="25" height="4.8" fill="#1e1e1e"/>
<rect x="126.0" y="196.5" width="4.2" height="15.5" rx="1.6" fill="#1e1e1e"/>
<rect x="116.0" y="207" width="1.2" height="12" fill="#8a8a8a"/>
<rect x="138.8" y="207" width="1.2" height="12" fill="#8a8a8a"/>
<rect x="115.7" y="218.2" width="24.6" height="4.3" fill="#2a2a2a"/>
<rect x="119.0" y="219.2" width="18" height="1.2" fill="#777"/>
<rect x="120.8" y="218" width="2.8" height="14.5" fill="#262626"/>
<rect x="131.2" y="218" width="2.8" height="14.5" fill="#262626"/>
<rect x="256.7" y="104.4" width="4.6" height="41.599999999999994" rx="1" fill="#e4e4e4" stroke="#b0b0b0" stroke-width="0.8"/>
<rect x="257.5" y="105.9" width="3" height="5" fill="#a8a8a8"/>
<rect x="257.5" y="113.4" width="3" height="5" fill="#b8b8b8"/>
<rect x="254.6" y="149" width="8.8" height="2.6" fill="#404040"/>
<ellipse cx="259" cy="152.6" rx="3.6" ry="1.9" fill="#7a7a7a"/>
<rect x="309.7" y="111.6" width="4.6" height="34.400000000000006" rx="1" fill="#e4e4e4" stroke="#b0b0b0" stroke-width="0.8"/>
<rect x="310.5" y="113.1" width="3" height="5" fill="#a8a8a8"/>
<rect x="310.5" y="120.6" width="3" height="5" fill="#b8b8b8"/>
<rect x="307.6" y="149" width="8.8" height="2.6" fill="#404040"/>
<ellipse cx="312" cy="152.6" rx="3.6" ry="1.9" fill="#7a7a7a"/>
<rect x="245.5" y="145.6" width="24.5" height="3.7" fill="#2e2e2e"/>
<rect x="298.0" y="145.6" width="27.5" height="3.7" fill="#2e2e2e"/>
<rect x="269.5" y="145.6" width="3.6" height="38.8" rx="1.2" fill="#2e2e2e"/>
<rect x="298.0" y="145.6" width="4.3" height="38.8" rx="1.2" fill="#2e2e2e"/>
<rect x="274.35" y="155.65" width="22.3" height="50.2" fill="#ffffff" stroke="#2a2a2a" stroke-width="2.7"/>
<rect x="276.0" y="158" width="19" height="1" fill="#b0b0b0"/>
<rect x="260.9" y="174.4" width="45.3" height="5" rx="1" fill="#a8a8a8"/>
<rect x="260.9" y="176.2" width="45.3" height="1.5" fill="#5a5a5a"/>
<rect x="268.5" y="172.5" width="6" height="11" rx="1" fill="#3a3a3a"/>
<rect x="296.5" y="172.5" width="6.5" height="11" rx="1" fill="#3a3a3a"/>
<rect x="273.0" y="204.2" width="25" height="4.8" fill="#1e1e1e"/>
<rect x="283.5" y="196.5" width="4.2" height="15.5" rx="1.6" fill="#1e1e1e"/>
<rect x="273.5" y="207" width="1.2" height="12" fill="#8a8a8a"/>
<rect x="296.3" y="207" width="1.2" height="12" fill="#8a8a8a"/>
<rect x="273.2" y="218.2" width="24.6" height="4.3" fill="#2a2a2a"/>
<rect x="276.5" y="219.2" width="18" height="1.2" fill="#777"/>
<rect x="278.3" y="218" width="2.8" height="14.5" fill="#262626"/>
<rect x="288.7" y="218" width="2.8" height="14.5" fill="#262626"/>
</g>
<rect x="199.6" y="279.8" width="1" height="34" fill="#aaaaaa"/>
<rect x="212.6" y="279.8" width="1" height="34" fill="#aaaaaa"/>
<rect x="185.8" y="306.4" width="40.7" height="1" fill="#b0b0b0"/>
<rect x="193" y="306" width="6" height="1.8" fill="#444"/>
<rect x="214" y="306" width="6" height="1.8" fill="#444"/>
<text x="199.2" y="303" font-size="14.5" fill="#555" textLength="15.4" lengthAdjust="spacingAndGlyphs">25</text>
<rect x="313.6" y="120.8" width="46.89999999999998" height="1.8" fill="#c6c6c6"/>
<rect x="304" y="156.7" width="56.5" height="1.8" fill="#c6c6c6"/>
<rect x="300" y="188.6" width="60.5" height="1.8" fill="#c6c6c6"/>
<rect x="296" y="216.7" width="64.5" height="1.8" fill="#c6c6c6"/>
<rect x="303.2" y="157" width="4.6" height="1.8" fill="#8a8a8a"/>
<rect x="299.2" y="188.7" width="5.2" height="1.8" fill="#555"/>
<rect x="296.3" y="216.7" width="5.2" height="1.8" fill="#8a8a8a"/>
<rect x="313.6" y="120.8" width="4.5" height="1.8" fill="#8a8a8a"/>
<rect x="294" y="264.6" width="66" height="1.6" fill="#c6c6c6"/>
<rect x="294" y="264.7" width="35" height="1.3" fill="#6a6a6a"/>
<circle cx="294.2" cy="265.4" r="2.6" fill="#111"/>
<polyline points="236,268.6 264.5,313.4 360,313.4" fill="none" stroke="#888" stroke-width="1"/>
<rect x="264.5" y="312.6" width="95.5" height="1.8" fill="#c6c6c6"/>
<polygon points="234.8,266.6 238.6,268.3 236.4,270.8" fill="#222"/>
<ellipse cx="207.5" cy="202.3" rx="137.9" ry="136.4" fill="none" stroke="#161616" stroke-width="1.35"/>
<text x="351.7" y="114.1" font-size="19.8" font-weight="400" fill="#333333" textLength="140.5" lengthAdjust="spacingAndGlyphs">Expansion Bolt</text>
<text x="355.6" y="152.1" font-size="19.8" font-weight="400" fill="#333333" textLength="231.0" lengthAdjust="spacingAndGlyphs">L Bracket For Rhs Fixing</text>
<text x="360.6" y="192.1" font-size="19.8" font-weight="400" fill="#333333" textLength="262.0" lengthAdjust="spacingAndGlyphs">MS Tubes For Louver Fixing</text>
<text x="358.2" y="224.1" font-size="19.8" font-weight="400" fill="#333333" textLength="188.0" lengthAdjust="spacingAndGlyphs">U Bracket For Panel</text>
<text x="358.2" y="247.2" font-size="19.8" font-weight="400" fill="#333333" textLength="73.0" lengthAdjust="spacingAndGlyphs">Holding</text>
<text x="358.2" y="275.8" font-size="19.8" font-weight="400" fill="#333333" textLength="179.0" lengthAdjust="spacingAndGlyphs">Wpc Louver Profile</text>
<text x="358.2" y="312.1" font-size="19.8" font-weight="400" fill="#333333" textLength="260.0" lengthAdjust="spacingAndGlyphs">Steel Reinforcement Profile</text>
<text x="358.2" y="334.8" font-size="19.8" font-weight="400" fill="#333333" textLength="146.0" lengthAdjust="spacingAndGlyphs">For Wpc Panels</text>
<text x="86.2" y="363.0" font-size="19.2" font-weight="700" fill="#121212" stroke="#121212" stroke-width="0.65" textLength="242.5" lengthAdjust="spacingAndGlyphs">Horizontal fixing detail</text>
<g clip-path="url(#c2)">
<rect x="96.6" y="390" width="3.4" height="290" fill="#bdbdbd"/>
<rect x="97.8" y="390" width="1.2" height="290" fill="#9a9a9a"/>
<rect x="167.2" y="421" width="3.2" height="250" fill="#d4d4d4"/>
<rect x="170.4" y="390" width="1.5" height="290" fill="#8e8e8e"/>
<rect x="171.3" y="435" width="3.4" height="47.6" fill="#2e2e2e"/>
<rect x="171.3" y="479.4" width="28.7" height="3.2" fill="#2e2e2e"/>
<rect x="197.8" y="439.6" width="2.4" height="43" fill="#2e2e2e"/>
<rect x="193" y="457.6" width="5.5" height="24" fill="#444"/>
<rect x="150.5" y="446.6" width="11" height="4.6" fill="#c8c8c8"/>
<rect x="150.5" y="448.2" width="11" height="1.4" fill="#555"/>
<rect x="161" y="446.4" width="10.5" height="5" fill="#3c3c3c"/>
<rect x="174.8" y="443.2" width="6.4" height="10.8" fill="#e8e8e8" stroke="#a6a6a6" stroke-width="0.8"/>
<rect x="174.8" y="446.6" width="6.4" height="0.8" fill="#b0b0b0"/>
<rect x="174.8" y="450" width="6.4" height="0.8" fill="#b0b0b0"/>
<rect x="191.6" y="443.2" width="6" height="10.8" fill="#e8e8e8" stroke="#a6a6a6" stroke-width="0.8"/>
<rect x="191.6" y="446.6" width="6" height="0.8" fill="#b0b0b0"/>
<rect x="191.6" y="450" width="6" height="0.8" fill="#b0b0b0"/>
<rect x="179" y="465.2" width="5.8" height="12.6" fill="#e6e6e6" stroke="#9a9a9a" stroke-width="0.8"/>
<rect x="179" y="469" width="5.8" height="0.8" fill="#aaa"/>
<rect x="179" y="473" width="5.8" height="0.8" fill="#aaa"/>
<rect x="184.8" y="469.4" width="8.4" height="5.4" fill="#ececec" stroke="#a0a0a0" stroke-width="0.7"/>
<rect x="184.8" y="471.6" width="8.4" height="0.8" fill="#999"/>
<rect x="200.2" y="434.6" width="98" height="48.8" rx="3.5" fill="#8f8f8f" stroke="#3e3e3e" stroke-width="1.4"/>
<rect x="207.2" y="442.0" width="23.30000000000001" height="34" rx="1.5" fill="#ffffff" stroke="#2c2c2c" stroke-width="3"/>
<rect x="236.8" y="441.0" width="24.69999999999999" height="36" rx="2" fill="#ffffff" stroke="#555" stroke-width="1"/>
<rect x="267.9" y="442.0" width="23.600000000000023" height="34" rx="1.5" fill="#ffffff" stroke="#2c2c2c" stroke-width="3"/>
<rect x="206" y="445.6" width="4.6" height="6" fill="#161616"/>
<rect x="210.5" y="446.8" width="10" height="4" fill="#c4c4c4"/>
<rect x="210.5" y="448.3" width="10" height="1.2" fill="#444"/>
<rect x="171.3" y="579" width="3.4" height="47.6" fill="#2e2e2e"/>
<rect x="171.3" y="623.4" width="28.7" height="3.2" fill="#2e2e2e"/>
<rect x="197.8" y="583.6" width="2.4" height="43" fill="#2e2e2e"/>
<rect x="193" y="601.6" width="5.5" height="24" fill="#444"/>
<rect x="150.5" y="590.6" width="11" height="4.6" fill="#c8c8c8"/>
<rect x="150.5" y="592.2" width="11" height="1.4" fill="#555"/>
<rect x="161" y="590.4" width="10.5" height="5" fill="#3c3c3c"/>
<rect x="174.8" y="587.2" width="6.4" height="10.8" fill="#e8e8e8" stroke="#a6a6a6" stroke-width="0.8"/>
<rect x="174.8" y="590.6" width="6.4" height="0.8" fill="#b0b0b0"/>
<rect x="174.8" y="594" width="6.4" height="0.8" fill="#b0b0b0"/>
<rect x="191.6" y="587.2" width="6" height="10.8" fill="#e8e8e8" stroke="#a6a6a6" stroke-width="0.8"/>
<rect x="191.6" y="590.6" width="6" height="0.8" fill="#b0b0b0"/>
<rect x="191.6" y="594" width="6" height="0.8" fill="#b0b0b0"/>
<rect x="179" y="609.2" width="5.8" height="12.6" fill="#e6e6e6" stroke="#9a9a9a" stroke-width="0.8"/>
<rect x="179" y="613" width="5.8" height="0.8" fill="#aaa"/>
<rect x="179" y="617" width="5.8" height="0.8" fill="#aaa"/>
<rect x="184.8" y="613.4" width="8.4" height="5.4" fill="#ececec" stroke="#a0a0a0" stroke-width="0.7"/>
<rect x="184.8" y="615.6" width="8.4" height="0.8" fill="#999"/>
<rect x="200.2" y="578.6" width="98" height="48.8" rx="3.5" fill="#8f8f8f" stroke="#3e3e3e" stroke-width="1.4"/>
<rect x="207.2" y="586.0" width="23.30000000000001" height="34" rx="1.5" fill="#ffffff" stroke="#2c2c2c" stroke-width="3"/>
<rect x="236.8" y="585.0" width="24.69999999999999" height="36" rx="2" fill="#ffffff" stroke="#555" stroke-width="1"/>
<rect x="267.9" y="586.0" width="23.600000000000023" height="34" rx="1.5" fill="#ffffff" stroke="#2c2c2c" stroke-width="3"/>
<rect x="206" y="589.6" width="4.6" height="6" fill="#161616"/>
<rect x="210.5" y="590.8" width="10" height="4" fill="#c4c4c4"/>
<rect x="210.5" y="592.3" width="10" height="1.2" fill="#444"/>
</g>
<polyline points="248.7,438.5 248.7,416.6 360.5,416.6" fill="none" stroke="#c6c6c6" stroke-width="1.6"/>
<rect x="248" y="434" width="1.6" height="5.5" fill="#222"/>
<polyline points="276.6,473 276.6,462.5 360.5,462.5" fill="none" stroke="#c6c6c6" stroke-width="1.4"/>
<rect x="171.5" y="538.4" width="189" height="1.4" fill="#c6c6c6"/>
<rect x="171.5" y="538" width="3.5" height="2" fill="#222"/>
<rect x="200" y="606.9" width="160.5" height="1.4" fill="#c6c6c6"/>
<polyline points="185.9,627 185.9,650.6 360.5,650.6" fill="none" stroke="#c6c6c6" stroke-width="1.4"/>
<rect x="185.1" y="626.5" width="1.6" height="5.5" fill="#333"/>
<rect x="276" y="471" width="1.4" height="3" fill="#333"/>
<ellipse cx="207.7" cy="530.2" rx="138.2" ry="136.4" fill="none" stroke="#161616" stroke-width="1.35"/>
<text x="353.2" y="415.4" font-size="19.8" font-weight="400" fill="#333333" textLength="199.0" lengthAdjust="spacingAndGlyphs">WPC Louver Panel of</text>
<text x="353.2" y="437.8" font-size="19.8" font-weight="400" fill="#333333" textLength="131.0" lengthAdjust="spacingAndGlyphs">Required Size</text>
<text x="363.6" y="472.4" font-size="19.8" font-weight="400" fill="#333333" textLength="260" lengthAdjust="spacingAndGlyphs">Steel Reinforcement Profile</text>
<text x="363.6" y="495.0" font-size="19.8" font-weight="400" fill="#333333" textLength="112.0" lengthAdjust="spacingAndGlyphs">WPC Panels</text>
<text x="369.2" y="530.6" font-size="19.8" font-weight="400" fill="#333333" textLength="211.0" lengthAdjust="spacingAndGlyphs">RHS For Louver Fixing</text>
<text x="359.2" y="589.4" font-size="19.8" font-weight="400" fill="#333333" textLength="221.0" lengthAdjust="spacingAndGlyphs">Hook Bracket For Panel</text>
<text x="359.2" y="612.5" font-size="19.8" font-weight="400" fill="#333333" textLength="58.0" lengthAdjust="spacingAndGlyphs">Fixing</text>
<text x="358.7" y="657.6" font-size="19.8" font-weight="400" fill="#333333" textLength="266.0" lengthAdjust="spacingAndGlyphs">U Bracket For Panel Holding</text>
<text x="100.4" y="690.3" font-size="19.2" font-weight="700" fill="#121212" stroke="#121212" stroke-width="0.65" textLength="215" lengthAdjust="spacingAndGlyphs">Vertical fixing detail</text>
</svg>
</body></html>
